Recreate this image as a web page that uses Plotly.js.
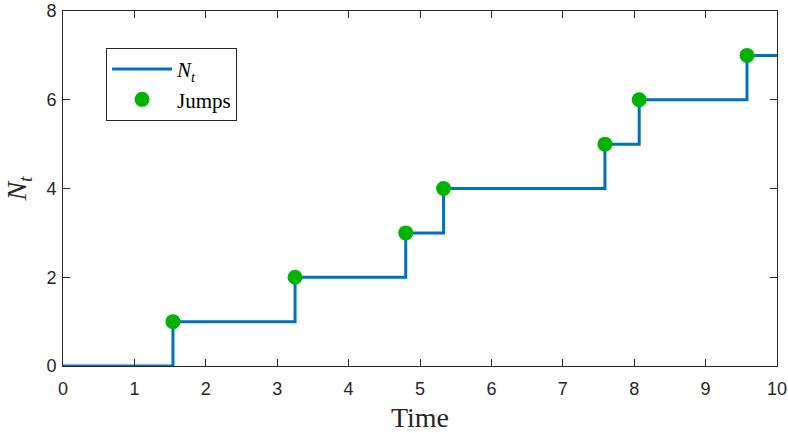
<!DOCTYPE html>
<html>
<head>
<meta charset="utf-8">
<script src="https://cdn.plot.ly/plotly-3.0.1.min.js"></script>
<style>html,body{margin:0;padding:0;background:#fff;}#chart{width:788px;height:433px;}</style>
</head>
<body>
<div id="chart"></div>
<script>
// Data
var jumpTimes = [1.54, 3.25, 4.80, 5.33, 7.59, 8.07, 9.58];
var jumpCounts = [1, 2, 3, 4, 5, 6, 7];
var tStart = 0, tEnd = 10;
var xTicks = [0, 1, 2, 3, 4, 5, 6, 7, 8, 9, 10];
var yTicks = [0, 2, 4, 6, 8];

var stepX = [tStart].concat(jumpTimes).concat([tEnd]);
var stepY = [0].concat(jumpCounts).concat([jumpCounts[jumpCounts.length - 1]]);

var axisColor = '#262626';
var serif = "Liberation Serif";
var sans = "Liberation Sans";
var traces = [
  {
    x: stepX, y: stepY, type: 'scatter', mode: 'lines',
    line: {shape: 'hv', color: '#0072BD', width: 3},
    name: '<i>N</i><sub><i>t</i></sub>'
  },
  {
    x: jumpTimes, y: jumpCounts, type: 'scatter', mode: 'markers',
    marker: {color: '#00B300', size: 15},
    name: 'Jumps'
  }
];

var layout = {
  width: 788, height: 433,
  margin: {l: 63, r: 11, t: 11, b: 67},
  paper_bgcolor: '#fff', plot_bgcolor: '#fff',
  showlegend: true,
  legend: {
    x: 0.0603, y: 0.896, xanchor: 'left', yanchor: 'top',
    bordercolor: axisColor, borderwidth: 1, bgcolor: '#fff',
    font: {family: serif, size: 21, color: '#000'},
    tracegroupgap: 0, itemwidth: 60
  },
  xaxis: {
    range: [0, 10], tickvals: xTicks, ticktext: xTicks.map(String),
    ticks: 'inside', ticklen: 7, tickcolor: axisColor, tickwidth: 1,
    ticklabelstandoff: 6,
    showline: true, linecolor: axisColor, linewidth: 1, mirror: 'ticks',
    showgrid: false, zeroline: false,
    tickfont: {family: sans, size: 18, color: axisColor},
    title: {text: 'Time', font: {family: serif, size: 28, color: axisColor}, standoff: 11}
  },
  yaxis: {
    range: [0, 8], tickvals: yTicks, ticktext: yTicks.map(String),
    ticks: 'inside', ticklen: 7, tickcolor: axisColor, tickwidth: 1,
    ticklabelstandoff: 2,
    showline: true, linecolor: axisColor, linewidth: 1, mirror: 'ticks',
    showgrid: false, zeroline: false,
    tickfont: {family: sans, size: 18, color: axisColor},
    title: {text: '<i>N</i><sub><i>t</i></sub>', font: {family: serif, size: 28, color: axisColor}, standoff: 11}
  }
};

Plotly.newPlot('chart', traces, layout, {displayModeBar: false, staticPlot: true});
</script>
</body>
</html>
